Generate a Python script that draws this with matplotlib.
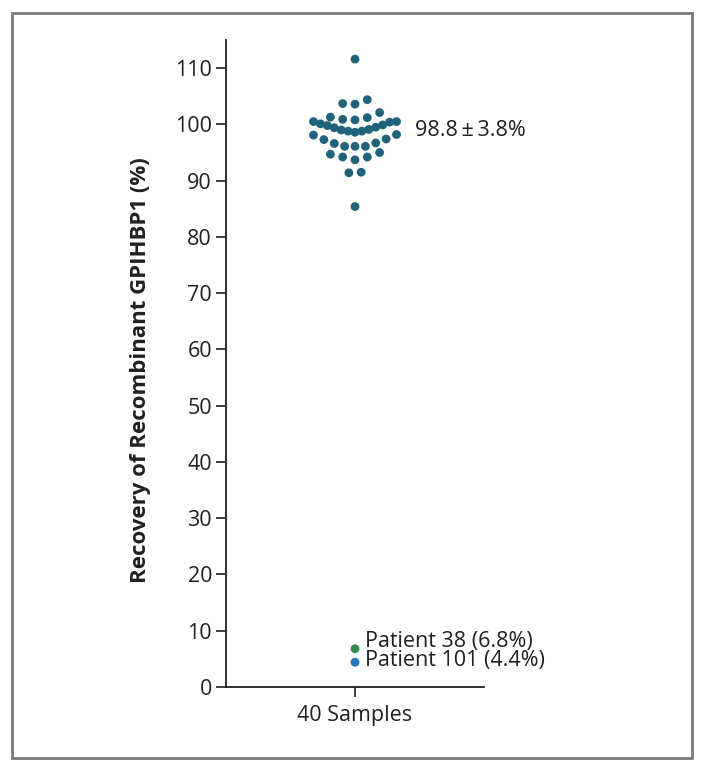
import numpy as np
import matplotlib.pyplot as plt
from matplotlib.patches import Rectangle

# recovery values (%) for the samples
recovery = [111.6, 103.7, 103.6, 104.4, 102.1, 101.2, 100.8, 100.9, 101.3,
            100.5, 100.1, 99.8, 99.4, 99.0, 98.8, 98.6, 98.8, 99.1, 99.5,
            99.9, 100.4, 100.5, 98.2, 98.1, 97.4, 97.3, 96.7, 96.6, 96.1,
            96.1, 96.1, 94.7, 94.2, 93.7, 94.2, 95.0, 91.4, 91.5, 85.4]
patients = ["Patient 38 (6.8%)", "Patient 101 (4.4%)"]
patient_values = [6.8, 4.4]
patient_colors = ["#2a8a4a", "#1f78c0"]
category = "40 Samples"
summary = "98.8\u2009\u00b1\u20093.8%"

dot_color = "#1e6379"
text_color = "#231f20"

# row bins for the dot plot layout (like a Prism scatter dot plot)
row_edges = [0, 88, 93, 95.5, 98.4, 100.65, 103, 108, 120]
max_half_px = 41.5
max_gap_px = 12.3


def dot_rows(values):
    values = np.asarray(values)
    xs = np.zeros(len(values))
    rows = np.digitize(values, row_edges)
    for r in np.unique(rows):
        idx = np.where(rows == r)[0]
        idx = idx[np.argsort(values[idx], kind="stable")]
        n = len(idx)
        if n == 1:
            continue
        gap = min(max_gap_px, 2 * max_half_px / (n - 1))
        # slots centre-out: smallest value in the middle
        if n % 2:
            slots = [0]
            for k in range(1, n // 2 + 1):
                slots += [-k, k]
        else:
            slots = []
            for k in range(n // 2):
                slots += [-(k + 0.5), k + 0.5]
        xs[idx] = np.array(slots[:n]) * gap
    return xs


fig = plt.figure(figsize=(7.04, 7.71), dpi=100)
plt.rcParams['font.family'] = ['Open Sans', 'DejaVu Sans']

fig.patches.append(Rectangle((12 / 704, 13 / 771), 680 / 704, 745 / 771,
                             transform=fig.transFigure, fill=False,
                             edgecolor="#7a7a7a", linewidth=2))

ax = fig.add_axes([226 / 704, 84 / 771, 258 / 704, 647 / 771])
ax.set_xlim(-1, 1)
ax.set_ylim(0, 115)

px_per_unit_x = 258 / 2
x_px = dot_rows(recovery)
ax.scatter(x_px / px_per_unit_x, recovery, s=40, color=dot_color,
           edgecolors="none", zorder=3, clip_on=False)

offsets = [1.3, 0.3]
for v, c, lab, off in zip(patient_values, patient_colors, patients, offsets):
    ax.scatter([0], [v], s=40, color=c, edgecolors="none", zorder=3, clip_on=False)
    ax.text(0.08, v + off, lab, fontsize=15.5, color=text_color, va="center")

ax.text(0.465, np.mean(recovery) + 0.5, summary, fontsize=15.5, color=text_color, va="center")

ax.spines[['top', 'right']].set_visible(False)
for s in ['left', 'bottom']:
    ax.spines[s].set_linewidth(1.3)
    ax.spines[s].set_color(text_color)
ax.set_yticks(np.arange(0, 111, 10))
ax.set_xticks([0])
ax.set_xticklabels([category])
ax.tick_params(axis='both', labelsize=15.5, colors=text_color, length=7, width=1.2)
ax.tick_params(axis='y', pad=3)
ax.tick_params(axis='x', pad=6)
ax.set_ylabel("Recovery of Recombinant GPIHBP1 (%)", fontsize=16,
              fontweight='bold', color=text_color)
ax.yaxis.set_label_coords(-0.29, 0.49)

fig.savefig("out.png", dpi=100)
